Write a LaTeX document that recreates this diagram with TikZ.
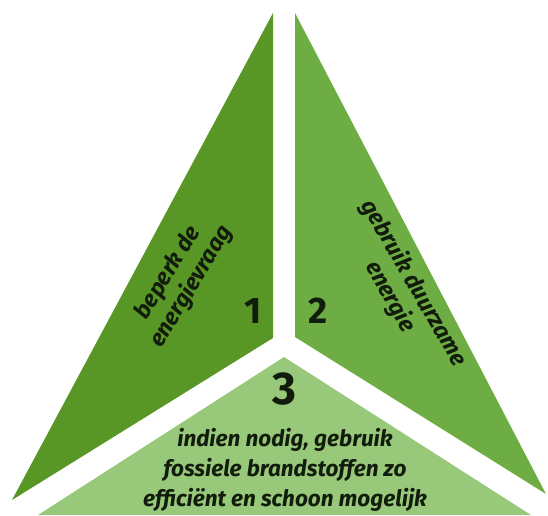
\documentclass[tikz,border=0pt]{standalone}
\usepackage{fontspec}
\setmainfont{Fira Sans}
\usepackage{xcolor}
\definecolor{leafdark}{RGB}{88,150,38}
\definecolor{leafmid}{RGB}{110,173,68}
\definecolor{leaflight}{RGB}{152,201,122}
\definecolor{inkgreen}{RGB}{18,28,12}

\begin{document}
\begin{tikzpicture}[x=1pt,y=-1pt,text=inkgreen,
  sidetext/.style={font=\fontsize{23}{27}\selectfont\bfseries\itshape,align=center},
  digit/.style={font=\fontsize{37}{37}\selectfont\bfseries}]
\useasboundingbox (0,0) rectangle (548,515);
% corners of the three pieces
\coordinate (l1) at (273,13);
\coordinate (l2) at (273,338);
\coordinate (l3) at (12,500);
\coordinate (r1) at (295,13);
\coordinate (r2) at (295,337);
\coordinate (r3) at (546,494);
\coordinate (b1) at (284,357);
\coordinate (b2) at (531,515);
\coordinate (b3) at (38,515);
\fill[leafdark] (l1) -- (l2) -- (l3) -- cycle;
\fill[leafmid] (r1) -- (r2) -- (r3) -- cycle;
\fill[leaflight] (b1) -- (b2) -- (b3) -- cycle;
% labels
\node[sidetext,rotate=59] (beperk) at (180,280) {beperk de\\energievraag};
\node[sidetext,rotate=-60] (duurzaam) at (402,290) {gebruik duurzame\\energie};
\node[digit] (een) at (253,311) {1};
\node[digit] (twee) at (318,311) {2};
\node[digit,font=\fontsize{46}{46}\selectfont\bfseries] (drie) at (284,389) {3};
\node[sidetext,font=\fontsize{22.5}{30}\selectfont\bfseries\itshape] (fossiel) at (285,470)
  {indien nodig, gebruik\\fossiele brandstoffen zo\\efficiënt en schoon mogelijk};
\end{tikzpicture}
\end{document}
